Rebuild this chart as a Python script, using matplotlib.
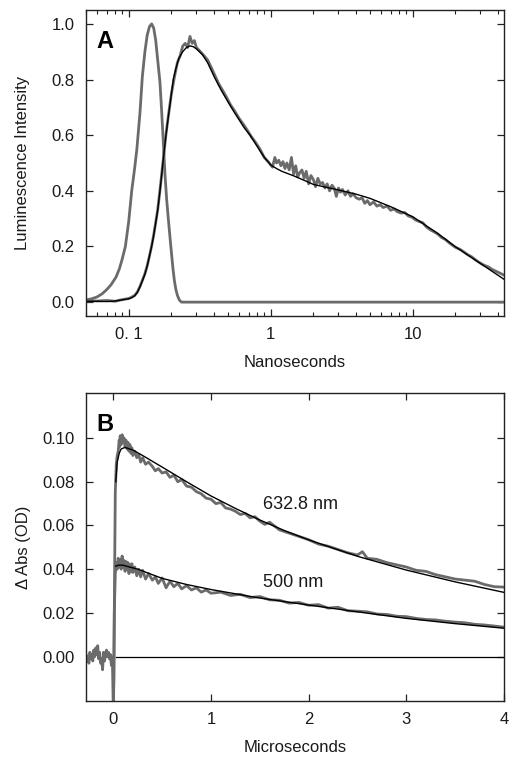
import matplotlib
matplotlib.use("Agg")
import matplotlib.pyplot as plt
from matplotlib.ticker import FixedLocator, FixedFormatter, LogLocator, NullFormatter

plt.rcParams['font.family'] = ['Liberation Sans', 'DejaVu Sans']

# ---------------- Panel A data (ns, normalized intensity) ----------------
irf_t = [0.05, 0.055, 0.06, 0.065, 0.07, 0.075, 0.0814, 0.086, 0.09,
         0.0947, 0.10, 0.105, 0.11, 0.114, 0.12, 0.1247, 0.13, 0.135, 0.14, 0.145,
         0.15, 0.155, 0.16, 0.166, 0.17, 0.175, 0.18, 0.185, 0.19, 0.198, 0.205,
         0.21, 0.215, 0.22, 0.227, 0.235, 0.5, 5.0, 44.0]
irf_y = [0.008, 0.012, 0.019, 0.03, 0.045, 0.062, 0.09, 0.12, 0.155, 0.20,
         0.29, 0.40, 0.48, 0.547, 0.68, 0.81, 0.90, 0.96, 0.99, 1.0, 0.985, 0.94,
         0.87, 0.79, 0.70, 0.58, 0.46, 0.37, 0.30, 0.20, 0.12, 0.075, 0.045,
         0.025, 0.008, 0.0, 0.0, 0.0, 0.0]

fitA_t = [0.05, 0.06, 0.07, 0.08, 0.09, 0.10, 0.105, 0.11, 0.115, 0.12, 0.125,
          0.13, 0.135, 0.14, 0.145, 0.15, 0.155, 0.16, 0.166, 0.17, 0.175, 0.18,
          0.183, 0.19, 0.20, 0.206, 0.215, 0.225, 0.24, 0.255, 0.27, 0.285, 0.30,
          0.33, 0.36, 0.40, 0.45, 0.50, 0.55, 0.60, 0.65, 0.715, 0.78, 0.85, 0.92,
          1.0, 1.1, 1.2, 1.35, 1.5, 1.75, 2.0, 2.5, 3.0, 4.0, 5.0, 7.0, 10.0, 15.0,
          20.0, 30.0, 44.0]
fitA_y = [0.003, 0.003, 0.002, 0.004, 0.008, 0.012, 0.016, 0.022, 0.035, 0.055,
          0.077, 0.10, 0.13, 0.165, 0.20, 0.24, 0.285, 0.33, 0.40, 0.45, 0.51,
          0.57, 0.60, 0.665, 0.75, 0.80, 0.84, 0.875, 0.90, 0.915, 0.921, 0.918,
          0.91, 0.89, 0.86, 0.81, 0.76, 0.72, 0.685, 0.655, 0.627, 0.60, 0.57,
          0.54, 0.515, 0.493, 0.48, 0.47, 0.46, 0.451, 0.436, 0.423, 0.412, 0.403,
          0.388, 0.373, 0.343, 0.307, 0.247, 0.199, 0.139, 0.082]

dataA_t = [0.05, 0.06, 0.07, 0.08, 0.09, 0.10, 0.105, 0.11, 0.115, 0.12, 0.125,
           0.13, 0.135, 0.14, 0.145, 0.15, 0.155, 0.16, 0.166, 0.17, 0.175, 0.18,
           0.183, 0.19,
           0.20, 0.21, 0.22, 0.23, 0.24, 0.25, 0.26, 0.27, 0.28, 0.29, 0.30, 0.32,
           0.34, 0.36, 0.38, 0.40, 0.43, 0.46, 0.49, 0.52, 0.56, 0.60, 0.64, 0.68,
           0.73, 0.78, 0.84, 0.90, 0.96, 1.03, 1.07, 1.10, 1.14, 1.18, 1.22, 1.26,
           1.30, 1.35, 1.40, 1.45, 1.50, 1.55, 1.60, 1.66, 1.72, 1.78, 1.85, 1.92,
           2.0, 2.07, 2.15, 2.23, 2.32, 2.41, 2.5, 2.6, 2.7, 2.8, 2.9, 3.0, 3.1, 3.2,
           3.35, 3.5, 3.65, 3.8, 4.0, 4.2, 4.4, 4.6, 4.8, 5.0, 5.3, 5.6, 5.9, 6.2,
           6.6, 7.0, 7.4, 7.8, 8.3, 8.8, 9.3, 9.9, 10.5, 11.1, 11.8, 12.5, 13.3,
           14.1, 15.0, 16.0, 17.0, 18.0, 19.0, 20.0, 21.5, 23.0, 24.5, 26.0, 28.0,
           30.0, 32.0, 34.0, 36.5, 39.0, 41.5, 44.0]
dataA_y = [0.005, 0.004, 0.006, 0.003, 0.009, 0.013, 0.018, 0.024, 0.036, 0.056,
           0.079, 0.102, 0.131, 0.166, 0.202, 0.242, 0.288, 0.332, 0.402, 0.452,
           0.512, 0.572, 0.603, 0.668,
           0.75, 0.81, 0.86, 0.885, 0.92, 0.93, 0.915, 0.955, 0.93, 0.94, 0.915,
           0.90, 0.885, 0.87, 0.845, 0.82, 0.785, 0.76, 0.735, 0.71, 0.685, 0.66,
           0.64, 0.62, 0.595, 0.575, 0.55, 0.52, 0.505, 0.485, 0.52, 0.50, 0.51,
           0.49, 0.505, 0.48, 0.50, 0.475, 0.52, 0.46, 0.49, 0.45, 0.465, 0.475,
           0.445, 0.47, 0.425, 0.455, 0.44, 0.415, 0.445, 0.425, 0.43, 0.41, 0.425,
           0.40, 0.42, 0.41, 0.38, 0.41, 0.395, 0.405, 0.385, 0.40, 0.38, 0.39,
           0.375, 0.37, 0.375, 0.355, 0.365, 0.35, 0.36, 0.345, 0.35, 0.34, 0.345,
           0.33, 0.335, 0.325, 0.32, 0.322, 0.31, 0.305, 0.295, 0.29, 0.285, 0.27,
           0.26, 0.253, 0.245, 0.232, 0.225, 0.214, 0.205, 0.197, 0.19, 0.18, 0.17,
           0.163, 0.15, 0.14, 0.132, 0.127, 0.117, 0.11, 0.103, 0.097]

# ---------------- Panel B data (us, delta OD) ----------------
pre_t = [-0.28, -0.27, -0.26, -0.25, -0.24, -0.23, -0.22, -0.21, -0.20, -0.19,
         -0.18, -0.17, -0.16, -0.15, -0.14, -0.13, -0.12, -0.11, -0.10, -0.09,
         -0.08, -0.07, -0.06, -0.05, -0.04, -0.03, -0.02, -0.01, 0.0]
pre_y = [0.001, -0.002, 0.000, -0.003, 0.002, -0.001, 0.001, -0.002, 0.003, 0.000,
         0.004, 0.001, 0.005, -0.001, 0.002, -0.003, -0.001, -0.006, 0.002, -0.002,
         0.001, 0.003, 0.000, 0.002, -0.001, 0.001, -0.004, 0.000, -0.025]

d633_t = [0.0, 0.005, 0.01, 0.02, 0.03, 0.04, 0.05, 0.06, 0.065, 0.07, 0.08, 0.09,
          0.10, 0.11, 0.12, 0.13, 0.14, 0.15, 0.16, 0.17, 0.18, 0.19, 0.20, 0.22,
          0.24, 0.26, 0.28, 0.30, 0.33, 0.36, 0.40, 0.43, 0.46, 0.50, 0.54, 0.58,
          0.62, 0.66, 0.70, 0.75, 0.80, 0.85, 0.90, 0.95, 1.0, 1.05, 1.1, 1.15, 1.2,
          1.25, 1.3, 1.35, 1.4, 1.45, 1.5, 1.55, 1.6, 1.7, 1.8, 1.9, 2.0, 2.1, 2.2,
          2.3, 2.4, 2.5, 2.55, 2.6, 2.7, 2.8, 2.9, 3.0, 3.1, 3.2, 3.3, 3.4, 3.5, 3.6,
          3.7, 3.8, 3.9, 4.0]
d633_y = [-0.025, -0.01, 0.02, 0.075, 0.088, 0.092, 0.094, 0.099, 0.096, 0.101,
          0.097, 0.1015, 0.098, 0.100, 0.096, 0.099, 0.095, 0.098, 0.094, 0.097,
          0.093, 0.0955, 0.092, 0.094, 0.091, 0.0925, 0.089, 0.091, 0.088, 0.089,
          0.087, 0.085, 0.086, 0.084, 0.0845, 0.082, 0.083, 0.080, 0.081, 0.078,
          0.0775, 0.0755, 0.0745, 0.0725, 0.072, 0.070, 0.0705, 0.068, 0.0675,
          0.0665, 0.065, 0.0655, 0.0635, 0.064, 0.062, 0.0605, 0.0615, 0.058,
          0.0565, 0.055, 0.0535, 0.0515, 0.0505, 0.049, 0.0475, 0.0465, 0.048,
          0.045, 0.0445, 0.043, 0.042, 0.041, 0.0395, 0.039, 0.0375, 0.0365,
          0.0355, 0.035, 0.0345, 0.033, 0.032, 0.0318]

d500_t = [0.0, 0.005, 0.01, 0.02, 0.03, 0.04, 0.05, 0.06, 0.07, 0.08, 0.09, 0.10,
          0.11, 0.12, 0.13, 0.14, 0.15, 0.16, 0.17, 0.18, 0.19, 0.20, 0.22, 0.24,
          0.26, 0.28, 0.30, 0.33, 0.36, 0.40, 0.43, 0.46, 0.50, 0.54, 0.58, 0.62,
          0.66, 0.70, 0.75, 0.80, 0.85, 0.90, 0.95, 1.0, 1.1, 1.2, 1.3, 1.4, 1.5,
          1.6, 1.7, 1.8, 1.9, 2.0, 2.1, 2.2, 2.3, 2.4, 2.5, 2.6, 2.7, 2.8, 2.9, 3.0,
          3.1, 3.2, 3.3, 3.4, 3.5, 3.6, 3.7, 3.8, 3.9, 4.0]
d500_y = [-0.025, -0.01, 0.02, 0.038, 0.043, 0.040, 0.045, 0.041, 0.0445, 0.040,
          0.046, 0.041, 0.044, 0.039, 0.0435, 0.040, 0.043, 0.038, 0.042, 0.039,
          0.0425, 0.0385, 0.041, 0.037, 0.040, 0.0365, 0.0395, 0.0355, 0.038,
          0.035, 0.0365, 0.0335, 0.036, 0.0315, 0.0345, 0.032, 0.0335, 0.031,
          0.0325, 0.0305, 0.0315, 0.0295, 0.0305, 0.029, 0.0295, 0.028, 0.0285,
          0.027, 0.0275, 0.026, 0.0258, 0.0245, 0.0248, 0.0235, 0.0238, 0.0222,
          0.0226, 0.021, 0.0208, 0.0205, 0.0195, 0.0193, 0.0185, 0.0183, 0.0175,
          0.017, 0.0168, 0.0162, 0.0158, 0.0155, 0.0148, 0.0145, 0.014, 0.0135]

fit633_t = [0.025, 0.04, 0.06, 0.08, 0.12, 0.2, 0.3, 0.5, 0.75, 1.0, 1.25, 1.5,
            1.75, 2.0, 2.5, 3.0, 3.5, 4.0]
fit633_y = [0.080, 0.089, 0.093, 0.095, 0.0957, 0.0945, 0.092, 0.0867, 0.0800,
            0.0735, 0.0678, 0.0625, 0.0577, 0.0534, 0.0459, 0.0396, 0.0342, 0.0294]

fit500_t = [0.025, 0.06, 0.1, 0.25, 0.5, 0.75, 1.0, 1.5, 2.0, 2.5, 3.0, 3.5, 4.0]
fit500_y = [0.0414, 0.0419, 0.0418, 0.0400, 0.0358, 0.0330, 0.0307, 0.0268,
            0.0236, 0.0205, 0.0175, 0.0151, 0.0130]

base_t = [0.025, 4.0]
base_y = [0.0, 0.0]

GRAY = '#6b6b6b'
TXT = '#1a1a1a'

fig = plt.figure(figsize=(5.17, 7.68), dpi=100)
axA = fig.add_axes([0.1663, 0.5885, 0.8086, 0.3985])
axB = fig.add_axes([0.1663, 0.0872, 0.8086, 0.4011])

# Panel A
axA.plot(irf_t, irf_y, color=GRAY, lw=2.0, solid_joinstyle='round')
axA.plot(dataA_t, dataA_y, color=GRAY, lw=2.0, solid_joinstyle='round')
axA.plot(fitA_t, fitA_y, color='black', lw=1.0)
axA.set_xscale('log')
axA.set_xlim(0.05, 44)
axA.set_ylim(-0.05, 1.05)
axA.xaxis.set_major_locator(FixedLocator([0.1, 1, 10]))
axA.xaxis.set_major_formatter(FixedFormatter(['0. 1', '1', '10']))
axA.xaxis.set_minor_locator(LogLocator(base=10, subs=[2, 3, 4, 5, 6, 7, 8, 9]))
axA.xaxis.set_minor_formatter(NullFormatter())
axA.set_yticks([0.0, 0.2, 0.4, 0.6, 0.8, 1.0])
axA.set_yticklabels(['0.0', '0.2', '0.4', '0.6', '0.8', '1.0'])
axA.set_xlabel('Nanoseconds', fontsize=12, color=TXT, labelpad=9)
axA.set_ylabel('Luminescence Intensity', fontsize=12, color=TXT, labelpad=16)
axA.text(0.026, 0.935, 'A', transform=axA.transAxes, fontsize=17,
         fontweight='bold', va='top', ha='left', color='black')

# Panel B
axB.plot(pre_t, pre_y, color=GRAY, lw=2.0, solid_joinstyle='round')
axB.plot(d633_t, d633_y, color=GRAY, lw=2.0, solid_joinstyle='round')
axB.plot(d500_t, d500_y, color=GRAY, lw=2.0, solid_joinstyle='round')
axB.plot(fit633_t, fit633_y, color='black', lw=1.0)
axB.plot(fit500_t, fit500_y, color='black', lw=1.0)
axB.plot(base_t, base_y, color='black', lw=0.9)
axB.set_xlim(-0.28, 4.0)
axB.set_ylim(-0.0203, 0.1206)
axB.set_xticks([0, 1, 2, 3, 4])
axB.set_xticklabels(['0', '1', '2', '3', '4'])
axB.set_yticks([0.0, 0.02, 0.04, 0.06, 0.08, 0.10])
axB.set_yticklabels(['0.00', '0.02', '0.04', '0.06', '0.08', '0.10'])
axB.set_xlabel('Microseconds', fontsize=12, color=TXT, labelpad=9)
axB.set_ylabel('\u0394 Abs (OD)', fontsize=12, color=TXT, labelpad=8)
axB.text(0.026, 0.935, 'B', transform=axB.transAxes, fontsize=17,
         fontweight='bold', va='top', ha='left', color='black')
axB.text(1.53, 0.0694, '632.8 nm', fontsize=13, color=TXT, va='center', ha='left')
axB.text(1.53, 0.0340, '500 nm', fontsize=13, color=TXT, va='center', ha='left')

for ax in (axA, axB):
    for s in ax.spines.values():
        s.set_linewidth(1.0)
        s.set_color('#222222')
    ax.tick_params(which='major', direction='in', length=5, width=0.9,
                   top=True, right=True, labelsize=12, labelcolor=TXT, pad=8,
                   color='#222222')
    ax.tick_params(which='minor', direction='in', length=3, width=0.8,
                   top=True, right=True, color='#222222')

fig.savefig('out.png', dpi=100)
